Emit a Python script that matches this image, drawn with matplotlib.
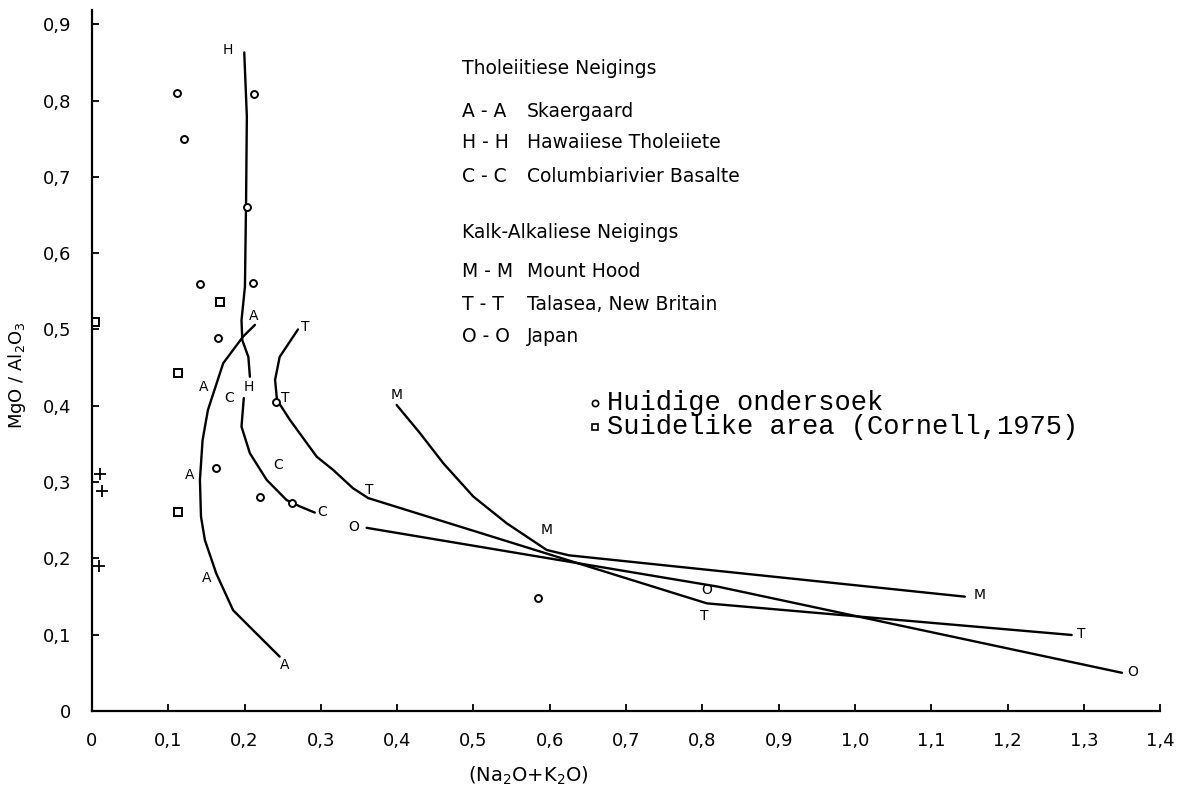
import numpy as np
import matplotlib.pyplot as plt

plt.rcParams['font.family'] = ['DejaVu Sans']
plt.rcParams['mathtext.default'] = 'regular'

# trends: (Na2O+K2O) against MgO/Al2O3
a_x = [0.2136, 0.198, 0.172, 0.152, 0.145, 0.1415, 0.1429, 0.148, 0.163, 0.185, 0.211, 0.246]
a_y = [0.506, 0.4906, 0.4557, 0.3945, 0.355, 0.3028, 0.2547, 0.224, 0.180, 0.132, 0.106, 0.0712]
h_x = [0.1996, 0.203, 0.202, 0.2005, 0.196, 0.197, 0.205, 0.207]
h_y = [0.863, 0.779, 0.670, 0.556, 0.512, 0.486, 0.464, 0.438]
c_x = [0.199, 0.196, 0.207, 0.229, 0.255, 0.2726, 0.292]
c_y = [0.410, 0.3726, 0.3377, 0.3028, 0.2765, 0.268, 0.260]
m_x = [0.3993, 0.430, 0.4605, 0.4998, 0.5435, 0.596, 0.625, 1.144]
m_y = [0.401, 0.364, 0.3246, 0.281, 0.246, 0.211, 0.204, 0.1498]
t_x = [0.270, 0.246, 0.240, 0.2425, 0.2595, 0.2945, 0.316, 0.342, 0.362, 0.806, 1.284]
t_y = [0.500, 0.464, 0.434, 0.4076, 0.3814, 0.3333, 0.316, 0.292, 0.279, 0.141, 0.0996]
o_x = [0.360, 0.82, 1.35]
o_y = [0.240, 0.163, 0.050]

# samples
huidige_x = [0.112, 0.121, 0.213, 0.203, 0.1415, 0.2106, 0.1656, 0.1625, 0.220, 0.241, 0.262, 0.585]
huidige_y = [0.810, 0.749, 0.809, 0.660, 0.560, 0.5605, 0.4885, 0.319, 0.281, 0.405, 0.272, 0.148]
suid_x = [0.004, 0.1678, 0.113, 0.113]
suid_y = [0.510, 0.5365, 0.4426, 0.261]
plus_x = [0.0105, 0.0127, 0.0096]
plus_y = [0.3106, 0.2887, 0.190]

# letters along the trends
letters = ['A', 'A', 'A', 'A', 'A', 'H', 'H', 'C', 'C', 'C',
           'T', 'T', 'T', 'T', 'T', 'M', 'M', 'M', 'O', 'O', 'O']
letter_x = [0.2114, 0.147, 0.128, 0.150, 0.253, 0.178, 0.206, 0.180, 0.244, 0.302,
            0.279, 0.253, 0.364, 0.803, 1.297, 0.399, 0.596, 1.164, 0.343, 0.806, 1.364]
letter_y = [0.5177, 0.424, 0.309, 0.174, 0.060, 0.866, 0.424, 0.410, 0.323, 0.261,
            0.503, 0.410, 0.290, 0.124, 0.101, 0.414, 0.237, 0.152, 0.2416, 0.1586, 0.0515]

key_codes = ['A - A', 'H - H', 'C - C', 'M - M', 'T - T', 'O - O']
key_names = ['Skaergaard', 'Hawaiiese Tholeiiete', 'Columbiarivier Basalte',
             'Mount Hood', 'Talasea, New Britain', 'Japan']
key_y = [0.7855, 0.7444, 0.7003, 0.5758, 0.5321, 0.4906]

xticks = np.round(np.arange(0, 1.41, 0.1), 1)
yticks = np.round(np.arange(0, 0.91, 0.1), 1)

fig = plt.figure(figsize=(11.88, 8.07), dpi=100)
ax = fig.add_axes([0.0774, 0.119, 0.8992, 0.868])
ax.set_xlim(0, 1.4)
ax.set_ylim(0, 0.918)

ax.spines["right"].set_color("none")
ax.spines["top"].set_color("none")
ax.spines["left"].set_linewidth(1.6)
ax.spines["bottom"].set_linewidth(1.6)

def comma(v):
    return "0" if v == 0 else ("%.1f" % v).replace(".", ",")

ax.set_xticks(xticks)
ax.set_xticklabels([comma(v) for v in xticks])
ax.set_yticks(yticks)
ax.set_yticklabels([comma(v) for v in yticks])
ax.tick_params(direction='in', length=5, width=1.3, labelsize=13)
ax.tick_params(axis='x', pad=15)
ax.tick_params(axis='y', pad=15)

for xs, ys in [(a_x, a_y), (h_x, h_y), (c_x, c_y), (m_x, m_y), (t_x, t_y), (o_x, o_y)]:
    ax.plot(xs, ys, 'k-', lw=1.7, solid_capstyle='round', solid_joinstyle='round')

ax.plot(huidige_x, huidige_y, 'o', ms=5, mfc='white', mec='k', mew=1.4)
ax.plot(suid_x, suid_y, 's', ms=5.5, mfc='white', mec='k', mew=1.4)
ax.plot(plus_x, plus_y, '+', ms=8, mec='k', mew=1.3)

for s, x, y in zip(letters, letter_x, letter_y):
    ax.text(x, y, s, fontsize=10, ha='center', va='center')

# key
ax.text(0.485, 0.8414, 'Tholeiitiese Neigings', fontsize=13.5, va='center')
ax.text(0.485, 0.6265, 'Kalk-Alkaliese Neigings', fontsize=13.5, va='center')
for code, name, y in zip(key_codes, key_names, key_y):
    ax.text(0.485, y, code, fontsize=13.5, va='center')
    ax.text(0.570, y, name, fontsize=13.5, va='center')

ax.plot([0.659], [0.4033], 'o', ms=4.5, mfc='white', mec='k', mew=1.2)
ax.plot([0.659], [0.3726], 's', ms=4.5, mfc='white', mec='k', mew=1.2)
ax.text(0.675, 0.4033, 'Huidige ondersoek', family='Liberation Mono', fontsize=19.5, va='center')
ax.text(0.675, 0.3726, 'Suidelike area (Cornell,1975)', family='Liberation Mono', fontsize=19.5, va='center')

fig.text(0.445, 0.038, '(Na$_2$O+K$_2$O)', fontsize=14, ha='center', va='center')
fig.text(0.014, 0.535, 'MgO / Al$_2$O$_3$', fontsize=13, ha='center', va='center', rotation=90)

fig.savefig('out.png', dpi=100)
